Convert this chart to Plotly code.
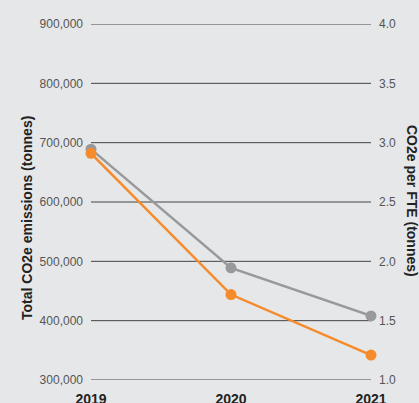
import plotly.graph_objects as go

# Emissions data
years = [2019, 2020, 2021]
total_emissions = [689000, 489000, 408000]      # tonnes CO2e
per_fte = [2.91, 1.72, 1.21]                      # tonnes CO2e per FTE

left_ticks = [300000, 400000, 500000, 600000, 700000, 800000, 900000]
right_ticks = [1.0, 1.5, 2.0, 2.5, 3.0, 3.5, 4.0]

GRAY = "#98999b"
ORANGE = "#f68b2c"
GRID = "#444444"
FONT = "Liberation Sans, Arial, sans-serif"

fig = go.Figure()

fig.add_trace(go.Scatter(
    x=years, y=total_emissions, mode="lines+markers",
    line=dict(color=GRAY, width=2.5),
    marker=dict(color=GRAY, size=11),
    cliponaxis=False, showlegend=False, yaxis="y",
))
fig.add_trace(go.Scatter(
    x=years, y=per_fte, mode="lines+markers",
    line=dict(color=ORANGE, width=2.5),
    marker=dict(color=ORANGE, size=11),
    cliponaxis=False, showlegend=False, yaxis="y2",
))

# Horizontal rules at each left-axis tick, spanning the plot width
for v in left_ticks:
    fig.add_shape(type="line", xref="paper", yref="y", x0=0, x1=1, y0=v, y1=v,
                  line=dict(color=GRID, width=1), layer="below")

fig.update_layout(
    width=419, height=403,
    margin=dict(l=91, r=48, t=24, b=23),
    paper_bgcolor="#e6e7e8",
    plot_bgcolor="#e6e7e8",
    font=dict(family=FONT, color="#555555"),
    xaxis=dict(
        range=[2019, 2021], tickvals=years, ticktext=[str(y) for y in years],
        showgrid=False, zeroline=False, showline=False, automargin=False,
        ticks="", ticklabelstandoff=9,
        tickfont=dict(size=14, color="#222222", family=FONT, weight="bold"),
    ),
    yaxis=dict(
        range=[300000, 900000], tickvals=left_ticks, tickformat=",",
        showgrid=False, automargin=False,
        zeroline=False, showline=False, ticks="", ticklabelstandoff=7,
        tickfont=dict(size=12, color="#555555"),
    ),
    yaxis2=dict(
        range=[1.0, 4.0], tickvals=right_ticks, tickformat=".1f",
        overlaying="y", side="right", showgrid=False, automargin=False,
        zeroline=False, showline=False, ticks="", ticklabelstandoff=7,
        tickfont=dict(size=12, color="#555555"),
    ),
    annotations=[
        dict(text="<b>Total CO2e emissions (tonnes)</b>", xref="paper", yref="paper",
             x=(27 - 91) / 280, y=(380 - 218) / 356, xanchor="center", yanchor="middle",
             textangle=-90, showarrow=False,
             font=dict(size=14, color="#222222")),
        dict(text="<b>CO2e per FTE (tonnes)</b>", xref="paper", yref="paper",
             x=(412 - 91) / 280, y=(380 - 201) / 356, xanchor="center", yanchor="middle",
             textangle=90, showarrow=False,
             font=dict(size=14, color="#222222")),
    ],
)

fig.write_html("out.html")
